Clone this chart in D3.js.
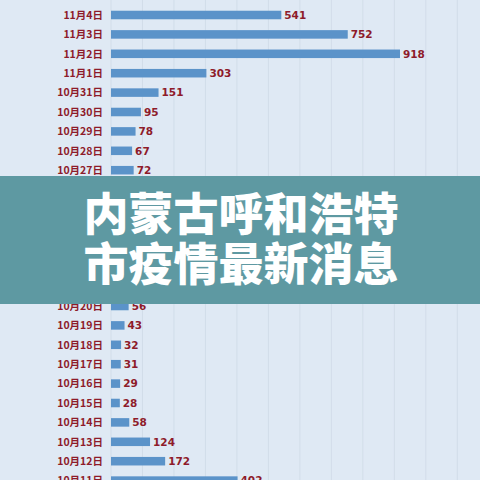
<!DOCTYPE html>
<html><head><meta charset="utf-8">
<script src="https://cdn.jsdelivr.net/npm/d3@7"></script>
<style>html,body{margin:0;padding:0;background:#dfe9f4;}svg{display:block;}</style>
</head><body><svg id="c" width="480" height="480"></svg>
<script>
const dates = ["11月4日","11月3日","11月2日","11月1日","10月31日","10月30日","10月29日","10月28日","10月27日","10月26日","10月25日","10月24日","10月23日","10月22日","10月21日","10月20日","10月19日","10月18日","10月17日","10月16日","10月15日","10月14日","10月13日","10月12日","10月11日"];
const cases = [541,752,918,303,151,95,78,67,72,63,58,49,45,40,52,56,43,32,31,29,28,58,124,172,402];
const gridTicks = [0,100,200,300,400,500,600,700,800,900,1000,1100,1200];
const titleLines = ["内蒙古呼和浩特","市疫情最新消息"];

const svg = d3.select("#c");
svg.append("rect").attr("width",480).attr("height",480).attr("fill","#dfe9f4");
const x = d3.scaleLinear().domain([0,918]).range([111,400]);
const y = d3.scaleBand().domain(dates).range([5.3,5.3+19.4*dates.length]).paddingInner(0.56).paddingOuter(0.28);

const bannerTop = 176, bannerH = 128;
const visible = dates.map((d,i)=>({d,v:cases[i]}))
  .filter(o=>{const c=y(o.d)+y.bandwidth()/2; return c-6<bannerTop || c+6>bannerTop+bannerH;});

svg.append("g").selectAll("line").data(gridTicks).join("line")
  .attr("x1",d=>x(d)).attr("x2",d=>x(d)).attr("y1",0).attr("y2",480)
  .attr("stroke","#d2dde9").attr("stroke-width",1);

svg.append("g").selectAll("rect").data(dates).join("rect")
  .attr("x",x(0)).attr("y",d=>y(d)).attr("height",y.bandwidth())
  .attr("width",(d,i)=>x(cases[i])-x(0)).attr("fill","#5b93c9");

svg.append("g").selectAll("text").data(visible).join("text")
  .attr("x",o=>x(o.v)+3).attr("y",o=>y(o.d)+y.bandwidth()/2).attr("dy","0.36em")
  .attr("font-family","DejaVu Sans, sans-serif").attr("font-weight","bold").attr("font-size",10.5)
  .attr("fill","#8e1b2a").text(o=>o.v);

svg.append("g").selectAll("text").data(visible).join("text")
  .attr("x",103).attr("y",o=>y(o.d)+y.bandwidth()/2).attr("dy","0.36em").attr("text-anchor","end")
  .attr("font-family","Noto Sans CJK SC, sans-serif").attr("font-weight","bold").attr("font-size",10.5)
  .attr("fill","#8e1b2a").text(o=>o.d);

svg.append("rect").attr("x",0).attr("y",bannerTop).attr("width",480).attr("height",bannerH).attr("fill","#5e99a2");
svg.append("g").selectAll("text").data(titleLines).join("text")
  .attr("x",241).attr("y",(d,i)=>231+i*50).attr("text-anchor","middle")
  .attr("font-family","Noto Sans CJK SC, sans-serif").attr("font-weight","900").attr("font-size",45)
  .attr("fill","#ffffff").text(d=>d);
</script></body></html>
